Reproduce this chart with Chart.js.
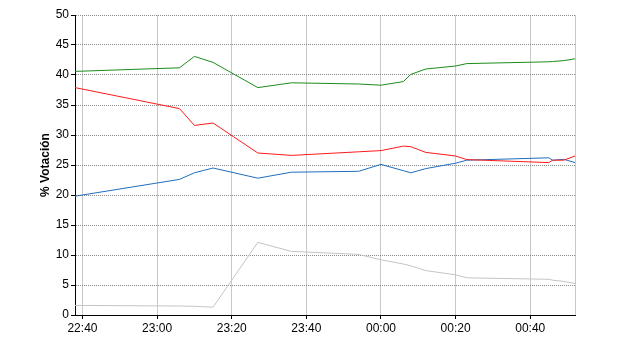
<!DOCTYPE html>
<html>
<head>
<meta charset="utf-8">
<script src="https://cdn.jsdelivr.net/npm/chart.js@4/dist/chart.umd.min.js"></script>
<style>
  body { margin: 0; background: #fff; }
  #wrap { width: 640px; height: 350px; }
</style>
</head>
<body>
<div id="wrap"><canvas id="votos" width="640" height="350"></canvas></div>
<script>
// hora de cada muestra
const times = ['22:38', '23:06', '23:10', '23:15', '23:27', '23:36', '23:54', '00:00', '00:06',
    '00:08', '00:12', '00:20', '00:23', '00:45', '00:46', '00:49', '00:52'];

const green_values = [40.6, 41.2, 43.1, 42.1, 37.9, 38.7, 38.5, 38.3, 38.9,
    40.1, 41.0, 41.5, 41.9, 42.2, 42.25, 42.4, 42.7];
const red_values = [37.9, 34.4, 31.6, 32.0, 27.0, 26.6, 27.2, 27.4, 28.15,
    28.05, 27.1, 26.5, 25.9, 25.4, 25.8, 25.8, 26.5];
const blue_values = [19.8, 22.6, 23.7, 24.5, 22.8, 23.8, 23.95, 25.1, 24.05,
    23.7, 24.4, 25.3, 25.8, 26.2, 25.8, 25.95, 25.4];
const gray_values = [1.6, 1.5, 1.45, 1.3, 12.1, 10.6, 10.1, 9.2, 8.5,
    8.2, 7.4, 6.7, 6.2, 5.95, 5.8, 5.6, 5.25];

const x_ticks = ['22:40', '23:00', '23:20', '23:40', '00:00', '00:20', '00:40'];
const y_ticks = [0, 5, 10, 15, 20, 25, 30, 35, 40, 45, 50];
const y_title = '% Votación';

// minutos desde las 22:00
function toMinutes(t) {
    let parts = t.split(':');
    let m = parseInt(parts[0]) * 60 + parseInt(parts[1]) - 22 * 60;
    if (m < 0) m += 1440;
    return m;
};

function toClock(v) {
    let m = (22 * 60 + v) % 1440;
    let h = Math.floor(m / 60);
    let mm = m % 60;
    return String(h).padStart(2, '0') + ':' + String(mm).padStart(2, '0');
};

function serie(values, color) {
    return {
        data: values.map((v, i) => ({ x: toMinutes(times[i]), y: v })),
        borderColor: color,
        borderWidth: 1,
        pointRadius: 0,
        tension: 0,
        fill: false
    };
};

const x_min = toMinutes(times[0]);
const x_max = toMinutes(times[times.length - 1]);
const x_tick_values = x_ticks.map(toMinutes);

function isLabelTick(v) {
    return x_tick_values.indexOf(v) >= 0;
};

var ctx = document.getElementById('votos').getContext('2d');

var myLineChart = new Chart(ctx, {
    type: 'line',
    data: {
        datasets: [
            serie(gray_values, '#c4c4c4'),
            serie(green_values, '#1a8c1a'),
            serie(red_values, '#ff1a1a'),
            serie(blue_values, '#1f6ebd')
        ]
    },
    options: {
        responsive: false,
        animation: false,
        layout: { padding: { top: 15, right: 65, left: 0, bottom: 0 } },
        plugins: {
            legend: { display: false },
            tooltip: { enabled: false }
        },
        scales: {
            x: {
                type: 'linear',
                min: x_min,
                max: x_max,
                afterFit: function(scale) { scale.height = 35; },
                afterBuildTicks: function(scale) {
                    // la linea del borde derecho va como tick sin texto
                    scale.ticks = x_tick_values.concat([x_max]).map(v => ({ value: v }));
                },
                ticks: {
                    autoSkip: false,
                    maxRotation: 0,
                    padding: 2,
                    color: '#000',
                    font: { family: 'Liberation Sans, Arial', size: 12 },
                    callback: function(v) { return isLabelTick(v) ? toClock(v) : ''; }
                },
                grid: {
                    color: '#c8c8c8',
                    lineWidth: 1,
                    tickLength: 4,
                    tickColor: function(c) {
                        return (c.tick && isLabelTick(c.tick.value)) ? '#000' : 'rgba(0,0,0,0)';
                    }
                },
                border: { display: true, color: '#000', width: 1 }
            },
            y: {
                min: 0,
                max: 50,
                afterFit: function(scale) { scale.width = 75; },
                afterBuildTicks: function(scale) {
                    scale.ticks = y_ticks.map(v => ({ value: v }));
                },
                ticks: {
                    padding: 2,
                    color: '#000',
                    font: { family: 'Liberation Sans, Arial', size: 12 }
                },
                grid: {
                    color: '#8a8a8a',
                    lineWidth: 1,
                    tickLength: 4,
                    tickColor: '#000',
                    tickBorderDash: []
                },
                border: { display: true, color: '#000', width: 1, dash: [1, 1] },
                title: {
                    display: true,
                    text: y_title,
                    color: '#000',
                    font: { family: 'Liberation Sans, Arial', size: 12, weight: 'bold' },
                    padding: { top: 38, bottom: 0 }
                }
            }
        }
    }
});
</script>
</body>
</html>
